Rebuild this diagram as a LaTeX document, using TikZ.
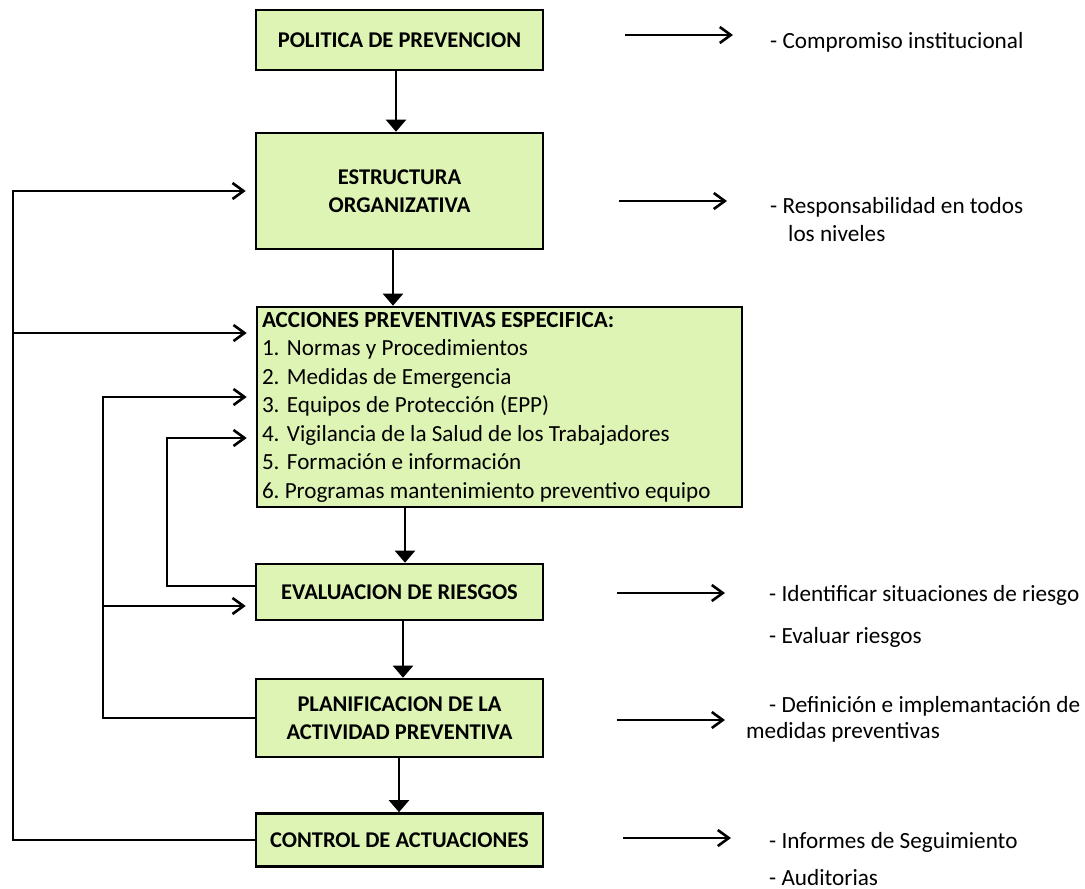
\documentclass[tikz,border=0pt]{standalone}
\usepackage{fontspec}
\setmainfont{Carlito}
\usetikzlibrary{arrows.meta}
\definecolor{boxgreen}{RGB}{222,244,180}

\begin{document}
\begin{tikzpicture}[x=1pt, y=-1pt,
    box/.style={draw, line width=2.6pt, fill=boxgreen, minimum width=287pt,
        inner sep=0pt, align=center, font=\fontsize{22.5}{28}\selectfont\bfseries},
    down/.style={-{Triangle[length=12pt,width=20pt]}, line width=2.2pt},
    arr/.style={-{Straight Barb[length=11pt,width=16pt,line width=2.6pt]}, line width=2.4pt},
    back/.style={arr, shorten >=9pt},
    note/.style={anchor=base west, inner sep=0pt, font=\fontsize{23.2}{28}\selectfont}]
    \useasboundingbox (0,0) rectangle (1085,889);

    % boxes
    \node [box, minimum height=60pt] (pol) at (399.5,40) {POLITICA DE PREVENCION};
    \node [box, minimum height=116pt] (est) at (399.5,191) {ESTRUCTURA\\ORGANIZATIVA};
    \node [box, minimum height=200pt, minimum width=485pt, text width=475pt, align=flush left,
        font=\fontsize{23.1}{28.5}\selectfont\frenchspacing] (acc) at (499.5,407)
        {\textbf{ACCIONES PREVENTIVAS ESPECIFICA:}\\
        \makebox[25pt][l]{1.}Normas y Procedimientos\\
        \makebox[25pt][l]{2.}Medidas de Emergencia\\
        \makebox[25pt][l]{3.}Equipos de Protección (EPP)\\
        \makebox[25pt][l]{4.}Vigilancia de la Salud de los Trabajadores\\
        \makebox[25pt][l]{5.}Formación e información\\
        6. Programas mantenimiento preventivo equipo};
    \node [box, minimum height=56pt] (eva) at (399.5,592) {EVALUACION DE RIESGOS};
    \node [box, minimum height=78pt] (pla) at (399.5,718) {PLANIFICACION DE LA\\ACTIVIDAD PREVENTIVA};
    \node [box, minimum height=53pt] (con) at (399.5,840) {CONTROL DE ACTUACIONES};

    % main flow
    \draw [down] ([xshift=-3.5pt]pol.south) -- ([xshift=-3.5pt]est.north);
    \draw [down] ([xshift=-6.5pt]est.south) -- ([xshift=-6.5pt]est.south |- acc.north);
    \draw [down] ([xshift=5.5pt]eva.north |- acc.south) -- ([xshift=5.5pt]eva.north);
    \draw [down] ([xshift=3.5pt]eva.south) -- ([xshift=3.5pt]pla.north);
    \draw [down] ([xshift=-0.5pt]pla.south) -- ([xshift=-0.5pt]con.north);

    % feedback loops
    \coordinate (outer) at (13,0);
    \coordinate (mid) at (103,0);
    \coordinate (inner) at (167,0);
    \coordinate (in1) at (acc.west |- 0,333);
    \coordinate (in2) at (acc.west |- 0,397);
    \coordinate (in3) at (acc.west |- 0,438);
    \coordinate (in4) at (eva.west |- 0,606);
    \coordinate (out4) at (eva.west |- 0,586);

    \draw [back] (con.west) -| (outer |- est.west) -- (est.west);
    \draw [back] (outer |- in1) -- (in1);
    \draw [back] (pla.west) -| (mid |- in2) -- (in2);
    \draw [back] (mid |- in4) -- (in4);
    \draw [back] (out4) -| (inner |- in3) -- (in3);

    % notes on the right
    \node [note] (n1) at (770,48) {- Compromiso institucional};
    \node [note] (n2) at (770,213) {- Responsabilidad en todos};
    \node [note] (n2b) at (788,241) {los niveles};
    \node [note] (n3) at (769,601) {- Identificar situaciones de riesgo};
    \node [note] (n3b) at (769,643) {- Evaluar riesgos};
    \node [note] (n4) at (769,712) {- Definición e implemantación de};
    \node [note] (n4b) at (746,738) {medidas preventivas};
    \node [note] (n5) at (769,848) {- Informes de Seguimiento};
    \node [note] (n5b) at (769,885) {- Auditorias};

    \coordinate (a1) at (625,35);
    \coordinate (b1) at (733,35);
    \coordinate (a2) at (619,201);
    \coordinate (b2) at (727,201);
    \coordinate (a3) at (617,593);
    \coordinate (b3) at (725,593);
    \coordinate (a4) at (617,720);
    \coordinate (b4) at (725,720);
    \coordinate (a5) at (623,838);
    \coordinate (b5) at (731,838);

    \draw [arr] (a1) -- (b1);
    \draw [arr] (a2) -- (b2);
    \draw [arr] (a3) -- (b3);
    \draw [arr] (a4) -- (b4);
    \draw [arr] (a5) -- (b5);
\end{tikzpicture}
\end{document}
